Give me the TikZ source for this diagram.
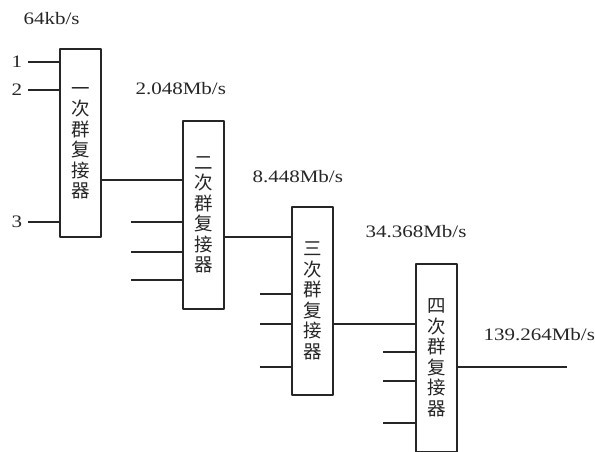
\documentclass[tikz,border=0pt]{standalone}
\usepackage{fontspec}
\newfontfamily\cjkfont{Noto Sans CJK SC}
\newfontfamily\ratefont[FakeStretch=1.2]{Liberation Serif}
\begin{document}
\begin{tikzpicture}[x=1pt,y=-1pt, line join=round, line width=1.1pt, color=black!85]
	\tikzset{mux/.style={draw, rectangle, minimum width=41pt, minimum height=188pt, inner sep=0pt, align=center, font=\cjkfont\fontsize{18.5}{20.5}\selectfont},
		rate/.style={anchor=west, inner sep=0pt, font=\ratefont\fontsize{17.5}{20}\selectfont},
		port/.style={inner sep=0pt, font=\ratefont\fontsize{17.5}{20}\selectfont}}
	\useasboundingbox (0,0) rectangle (595,451);
	\clip (0,0) rectangle (595,451);
	% multiplexers
	\node[mux] (m1) at (80.5,143) {一\\次\\群\\复\\接\\器};
	\node[mux] (m2) at (203.5,215) {二\\次\\群\\复\\接\\器};
	\node[mux] (m3) at (312.5,301) {三\\次\\群\\复\\接\\器};
	\node[mux] (m4) at (436.5,358) {四\\次\\群\\复\\接\\器};
	% rates
	\node[rate] (r0) at (23,19) {64kb/s};
	\node[rate] (r1) at (135,89) {2.048Mb/s};
	\node[rate] (r2) at (252,177) {8.448Mb/s};
	\node[rate] (r3) at (365,232) {34.368Mb/s};
	\node[rate] (r4) at (483,335) {139.264Mb/s};
	% tributaries
	\foreach \y/\k in {62/1,90/2,222/3} {
		\coordinate (t\k) at (28,\y);
		\draw (t\k) -- (m1.west |- t\k);
		\node[port] (p\k) at (17,\y) {\k};
	}
	\foreach \y in {222,252,280} {\coordinate (a) at (131,\y); \draw (a) -- (m2.west |- a);}
	\foreach \y in {294,324,367} {\coordinate (a) at (260,\y); \draw (a) -- (m3.west |- a);}
	\foreach \y in {352,381,423} {\coordinate (a) at (383,\y); \draw (a) -- (m4.west |- a);}
	% links
	\coordinate (l1) at (0,180);
	\coordinate (l2) at (0,237);
	\coordinate (l3) at (0,324);
	\coordinate (out) at (567,367);
	\draw (m1.east |- l1) -- (m2.west |- l1);
	\draw (m2.east |- l2) -- (m3.west |- l2);
	\draw (m3.east |- l3) -- (m4.west |- l3);
	\draw (m4.east |- out) -- (out);
\end{tikzpicture}
\end{document}
